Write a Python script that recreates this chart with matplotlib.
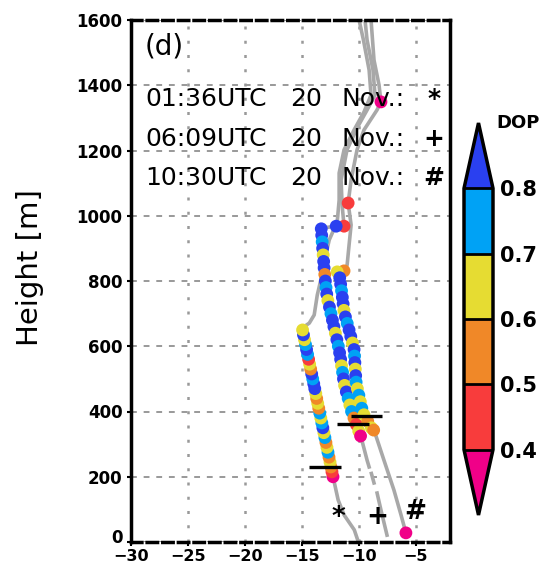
import matplotlib
matplotlib.use("Agg")
import matplotlib.pyplot as plt
import numpy as np
from matplotlib.colors import ListedColormap, BoundaryNorm
from matplotlib.transforms import ScaledTranslation

# ---- data ----
# gray traces (x, height) for the three soundings, bottom -> top
star_line_x = [-10.1, -10.4, -11.3, -11.82, -12.26, -13.45, -14.97, -14.35, -13.92, -13.65,
               -13.30, -13.04, -12.6, -11.9, -11.73, -11.73, -11.3, -10.42, -9.55, -8.93,
               -9.1, -9.6, -9.98]
star_line_h = [6, 37, 83, 129, 199, 400, 656, 671, 696, 757,
               809, 858, 926, 981, 1048, 1131, 1202, 1263, 1318, 1370,
               1447, 1539, 1600]

plus_line_x = [-7.53, -8.06, -8.4, np.nan, -8.67, -8.9, np.nan, -9.1, -9.28, -9.81,
               -10.64, -11.35, -12.06, -12.82, -13.05, -13.30, -11.99, -11.3, -11.47,
               -11.56, -11.04, -10.16, -9.28, -8.58, -8.76, -9.28, -9.46]
plus_line_h = [21, 98, 150, np.nan, 181, 210, np.nan, 230, 251, 322,
               400, 500, 640, 760, 840, 962, 968, 968, 1033,
               1110, 1202, 1269, 1324, 1370, 1447, 1539, 1600]

hash_line_x = [-5.87, -6.3, -6.92, -7.8, -8.67, -9.74, -10.28, -10.42, -11.02, -11.45,
               -11.75, -11.3, -11.03, -10.86, -10.68, -10.94, -10.68, -10.16, -9.55,
               -8.41, -8.06, -8.23, -8.67, -8.93]
hash_line_h = [28, 83, 159, 251, 343, 410, 510, 590, 670, 750,
               830, 831, 849, 910, 972, 1039, 1110, 1202, 1263,
               1324, 1349, 1401, 1477, 1600]

# DOP samples along each trace
star_h = [200, 215, 230, 245, 260, 275, 290, 305, 320, 335, 350, 365, 380, 395, 410, 425,
          440, 455, 470, 485, 500, 515, 530, 545, 560, 575, 590, 605, 620, 635, 650]
star_x = [-12.27, -12.36, -12.45, -12.53, -12.62, -12.71, -12.80, -12.89, -12.98, -13.07,
          -13.16, -13.25, -13.34, -13.43, -13.52, -13.61, -13.70, -13.78, -13.87, -13.96,
          -14.05, -14.14, -14.23, -14.32, -14.41, -14.50, -14.59, -14.68, -14.77, -14.86, -14.94]
star_dop = [0.35, 0.45, 0.55, 0.65, 0.55, 0.75, 0.65, 0.55, 0.75, 0.65, 0.85, 0.75, 0.65,
            0.75, 0.55, 0.65, 0.55, 0.65, 0.85, 0.85, 0.75, 0.85, 0.55, 0.65, 0.45, 0.75,
            0.85, 0.75, 0.65, 0.85, 0.65]

plus_h = [968, 968, 960, 940, 920, 900, 880, 860, 840, 820, 800, 780, 760, 740, 720, 700,
          680, 660, 640, 620, 600, 580, 560, 540, 520, 500, 480, 460, 440, 420, 400,
          380, 360, 340, 325]
plus_x = [-11.3, -11.99, -13.30, -13.26, -13.22, -13.18, -13.13, -13.09, -13.05, -12.99,
          -12.94, -12.88, -12.82, -12.72, -12.58, -12.45, -12.32, -12.19, -12.06, -11.93,
          -11.80, -11.69, -11.60, -11.52, -11.43, -11.35, -11.25, -11.10, -10.94, -10.79,
          -10.64, -10.43, -10.22, -10.01, -9.85]
plus_dop = [0.45, 0.85, 0.85, 0.85, 0.75, 0.85, 0.65, 0.85, 0.85, 0.55, 0.85, 0.75, 0.85,
            0.65, 0.85, 0.75, 0.85, 0.85, 0.65, 0.85, 0.75, 0.85, 0.85, 0.65, 0.75, 0.85,
            0.65, 0.85, 0.75, 0.65, 0.75, 0.55, 0.45, 0.65, 0.35]

hash_h = [1349, 1039, 831, 828, 810, 790, 770, 750, 730, 710, 690, 670, 650, 630, 610, 590,
          570, 550, 530, 510, 490, 470, 450, 430, 410, 390, 370, 350, 343, 28]
hash_x = [-8.06, -10.94, -11.30, -11.90, -11.68, -11.60, -11.52, -11.45, -11.38, -11.31,
          -11.18, -11.02, -10.86, -10.71, -10.56, -10.42, -10.38, -10.35, -10.31, -10.28,
          -10.24, -10.13, -10.00, -9.87, -9.74, -9.55, -9.22, -8.90, -8.70, -5.87]
hash_dop = [0.35, 0.45, 0.55, 0.65, 0.85, 0.85, 0.75, 0.85, 0.85, 0.65, 0.85, 0.75, 0.85,
            0.85, 0.65, 0.85, 0.75, 0.85, 0.65, 0.85, 0.75, 0.65, 0.75, 0.65, 0.75, 0.65,
            0.55, 0.65, 0.55, 0.35]

# black bars (height, x start, x end)
bar_h = [230, 362, 386]
bar_x0 = [-14.35, -11.9, -10.7]
bar_x1 = [-11.6, -9.1, -8.0]

times = ["01:36UTC", "06:09UTC", "10:30UTC"]
symbols = ["*", "+", "#"]
symbol_x = [-11.82, -8.41, -5.09]
symbol_h = [74, 77, 92]

dop_levels = [0.4, 0.5, 0.6, 0.7, 0.8]
dop_colors = ["#f83c3c", "#f08828", "#e6dc32", "#00a2f5"]
under_color = "#f00088"
over_color = "#2a40f0"

# ---- figure ----
W, H = 553, 567
fig = plt.figure(figsize=(W / 100, H / 100), dpi=100)
ax = fig.add_axes([131 / W, 25 / H, 319 / W, 522 / H])

cmap = ListedColormap(dop_colors)
cmap.set_under(under_color)
cmap.set_over(over_color)
norm = BoundaryNorm(dop_levels, cmap.N)

gray = "#a8a8a8"
for lx, lh in [(star_line_x, star_line_h), (plus_line_x, plus_line_h), (hash_line_x, hash_line_h)]:
    ax.plot(lx, lh, color=gray, lw=2.6, zorder=2)

for dx, dh, dv in [(star_x, star_h, star_dop), (plus_x, plus_h, plus_dop), (hash_x, hash_h, hash_dop)]:
    sc = ax.scatter(dx, dh, c=dv, cmap=cmap, norm=norm, s=85, edgecolors="none", zorder=3)

ax.hlines(bar_h, bar_x0, bar_x1, color="black", lw=2.4, zorder=4)

for s, sx, sh in zip(symbols, symbol_x, symbol_h):
    ax.text(sx, sh, s, fontsize=19, fontweight="bold", ha="center", va="center", zorder=5)

ax.set_xlim(-30, -2)
ax.set_ylim(0, 1600)
ax.set_xticks([-30, -25, -20, -15, -10, -5])
ax.set_yticks(range(0, 1601, 200))
ax.tick_params(direction="out", length=3, width=1.5)
ax.tick_params(axis="x", pad=2, labelsize=11.5)
ax.tick_params(axis="y", pad=3, labelsize=12)
for lab in ax.get_xticklabels() + ax.get_yticklabels():
    lab.set_fontweight("bold")
# lift the "0" label a little so it clears the x tick labels
lab0 = ax.yaxis.get_major_ticks()[0].label1
lab0.set_transform(lab0.get_transform() + ScaledTranslation(0, 6 / 100, fig.dpi_scale_trans))

ax.grid(axis="x", color="#999999", linestyle=(0, (1.2, 4.5)), lw=1.8)
ax.grid(axis="y", color="#999999", linestyle=(0, (3, 3.5)), lw=1.4)
ax.set_axisbelow(True)

for side in ["left", "right"]:
    ax.spines[side].set_linewidth(2.5)
for side in ["top", "bottom"]:
    ax.spines[side].set_linewidth(2.5)
    ax.spines[side].set_linestyle((0, (3, 1.5)))

fig.text(30 / W, 1 - 268 / H, "Height [m]", rotation=90, fontsize=21,
         ha="center", va="center")

# legend text block
fig.text(145 / W, 1 - 46 / H, "(d)", fontsize=20, ha="left", va="center")
line_y = [99, 139, 178]
for t, s, yy in zip(times, symbols, line_y):
    fig.text(145 / W, 1 - yy / H, t, fontsize=18, ha="left", va="center")
    fig.text(290 / W, 1 - yy / H, "20", fontsize=18, ha="left", va="center")
    fig.text(342 / W, 1 - yy / H, "Nov.:", fontsize=18, ha="left", va="center")
    fig.text(434 / W, 1 - yy / H, s, fontsize=18, fontweight="bold", ha="center", va="center")

# colorbar
cax = fig.add_axes([464 / W, 1 - 515 / H, 29 / W, 392 / H])
cb = fig.colorbar(sc, cax=cax, extend="both", extendfrac=0.25, drawedges=True,
                  ticks=dop_levels)
cb.outline.set_linewidth(2.5)
cb.dividers.set_linewidth(2.0)
cb.dividers.set_color("black")
cax.tick_params(length=0, labelsize=15, pad=5)
for lab in cax.get_yticklabels():
    lab.set_fontweight("bold")
fig.text(518 / W, 1 - 123 / H, "DOP", fontsize=13, fontweight="bold",
         ha="center", va="center")

fig.savefig("out.png", dpi=100)
